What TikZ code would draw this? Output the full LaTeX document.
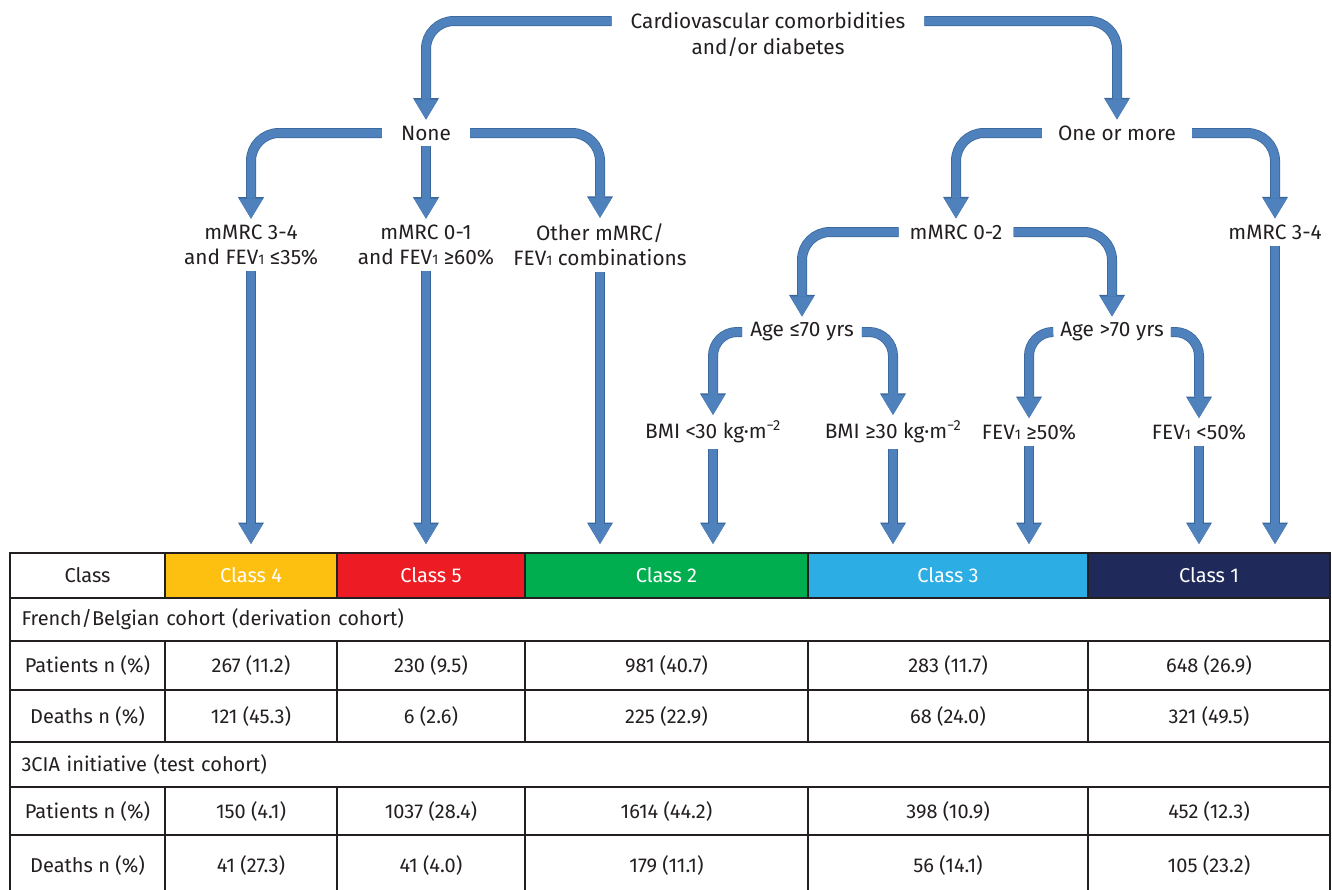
\documentclass[tikz,border=0pt]{standalone}
\usepackage{fontspec}
\setmainfont{Fira Sans}
\usetikzlibrary{arrows.meta,positioning}

\definecolor{arrowblue}{HTML}{4F81BD}
\definecolor{arrowedge}{HTML}{3A679B}
\definecolor{txtgray}{HTML}{231F20}
\definecolor{classfour}{HTML}{FDBF10}
\definecolor{classfive}{HTML}{ED1C24}
\definecolor{classtwo}{HTML}{00AE4F}
\definecolor{classthree}{HTML}{2CADE3}
\definecolor{classone}{HTML}{1F2A5B}

\newcommand{\fevone}{FEV{\fontsize{14pt}{14pt}\selectfont 1}}

\tikzset{
  flow/.style={draw=arrowblue, line width=8.5pt, rounded corners=28pt,
    -{Triangle[width=24pt,length=20pt,line width=0pt]},
    preaction={draw=arrowedge, line width=10pt,
      -{Triangle[width=26pt,length=21.5pt,line width=0pt]}}},
  crit/.style={text=txtgray, inner xsep=#1, inner ysep=6pt, align=center,
    font=\fontsize{20.8pt}{25pt}\selectfont},
  crit/.default=16pt,
  cell/.style={draw=txtgray, line width=1.3pt, inner sep=0pt, outer sep=0pt,
    text=txtgray, font=\fontsize{20pt}{22pt}\selectfont},
  hcell/.style={cell, text=white, minimum height=45pt}
}

\begin{document}
\begin{tikzpicture}[x=1pt,y=-1pt]
    \useasboundingbox (0,0) rectangle (1332,889);

    % decision tree
    \node[crit=19pt] (cvd) at (768,21) {Cardiovascular comorbidities};
    \node[crit] (cvdb) at (768,47) {and/or diabetes};
    \node[crit=19pt] (none) at (426,133) {None};
    \node[crit=16pt] (more) at (1117,133) {One or more};

    \node[crit] (lowfev) at (251,245) {mMRC 3-4\\and \fevone{} ≤35\%};
    \node[crit] (highfev) at (426,245) {mMRC 0-1\\and \fevone{} ≥60\%};
    \node[crit] (other) at (600,245) {Other mMRC/\\\fevone{} combinations};
    \node[crit=11pt] (mlow) at (956,232) {mMRC 0-2};
    \node[crit] (mhigh) at (1275,232) {mMRC 3-4};

    \node[crit=8pt] (young) at (802,332) {Age ≤70 yrs};
    \node[crit=7pt] (old) at (1112,332) {Age >70 yrs};

    \node[crit] (bmilow) at (713,432) {BMI <30 kg·m\textsuperscript{−2}};
    \node[crit] (bmihigh) at (893,432) {BMI ≥30 kg·m\textsuperscript{−2}};
    \node[crit] (fevhigh) at (1029,432) {\fevone{} ≥50\%};
    \node[crit] (fevlow) at (1199,432) {\fevone{} <50\%};

    \coordinate (tabtop) at (0,544);

    \draw[flow] (cvd.west) -| (none.north);
    \draw[flow] (cvd.east) -| (more.north);
    \draw[flow] (none.west) -| (lowfev.north);
    \draw[flow] (none.south) -- (highfev.north);
    \draw[flow] (none.east) -| (other.north);
    \draw[flow] (more.west) -| (mlow.north);
    \draw[flow] (more.east) -| (mhigh.north);
    \draw[flow] (mlow.west) -| (young.north);
    \draw[flow] (mlow.east) -| (old.north);
    \draw[flow, rounded corners=24pt] (young.west) -| (bmilow.north);
    \draw[flow, rounded corners=24pt] (young.east) -| (bmihigh.north);
    \draw[flow, rounded corners=24pt] (old.west) -| (fevhigh.north);
    \draw[flow, rounded corners=24pt] (old.east) -| (fevlow.north);

    \draw[flow] (lowfev.south) -- (lowfev.south |- tabtop);
    \draw[flow] (highfev.south) -- (highfev.south |- tabtop);
    \draw[flow] (other.south) -- (other.south |- tabtop);
    \draw[flow] (bmilow.south) -- (bmilow.south |- tabtop);
    \draw[flow] (bmihigh.south) -- (bmihigh.south |- tabtop);
    \draw[flow] (fevhigh.south) -- (fevhigh.south |- tabtop);
    \draw[flow] (fevlow.south) -- (fevlow.south |- tabtop);
    \draw[flow] (mhigh.south) -- (mhigh.south |- tabtop);

    % table: header
    \node[hcell, text=txtgray, minimum width=155pt] (hclass) at (87.5,575.5) {Class};
    \node[hcell, fill=classfour, minimum width=172pt] (hfour) at (251,575.5) {Class 4};
    \node[hcell, fill=classfive, minimum width=188pt] (hfive) at (431,575.5) {Class 5};
    \node[hcell, fill=classtwo, minimum width=283pt] (htwo) at (666.5,575.5) {Class 2};
    \node[hcell, fill=classthree, minimum width=280pt] (hthree) at (948,575.5) {Class 3};
    \node[hcell, fill=classone, minimum width=242pt] (hone) at (1209,575.5) {Class 1};

    % derivation cohort
    \node[cell, text width=1297pt, inner xsep=11.5pt, align=left, minimum height=43pt] (deriv) at (670,619.5) {French/Belgian cohort (derivation cohort)};
    \node[cell, minimum width=155pt, minimum height=49pt] (dpat) at (87.5,665.5) {Patients n (\%)};
    \node[cell, minimum width=172pt, minimum height=49pt] (dpatfour) at (251,665.5) {267 (11.2)};
    \node[cell, minimum width=188pt, minimum height=49pt] (dpatfive) at (431,665.5) {230 (9.5)};
    \node[cell, minimum width=283pt, minimum height=49pt] (dpattwo) at (666.5,665.5) {981 (40.7)};
    \node[cell, minimum width=280pt, minimum height=49pt] (dpatthree) at (948,665.5) {283 (11.7)};
    \node[cell, minimum width=242pt, minimum height=49pt] (dpatone) at (1209,665.5) {648 (26.9)};
    \node[cell, minimum width=155pt, minimum height=52pt] (ddeath) at (87.5,716) {Deaths n (\%)};
    \node[cell, minimum width=172pt, minimum height=52pt] (ddeathfour) at (251,716) {121 (45.3)};
    \node[cell, minimum width=188pt, minimum height=52pt] (ddeathfive) at (431,716) {6 (2.6)};
    \node[cell, minimum width=283pt, minimum height=52pt] (ddeathtwo) at (666.5,716) {225 (22.9)};
    \node[cell, minimum width=280pt, minimum height=52pt] (ddeaththree) at (948,716) {68 (24.0)};
    \node[cell, minimum width=242pt, minimum height=52pt] (ddeathone) at (1209,716) {321 (49.5)};

    % test cohort
    \node[cell, text width=1297pt, inner xsep=11.5pt, align=left, minimum height=45pt] (test) at (670,764.5) {3CIA initiative (test cohort)};
    \node[cell, minimum width=155pt, minimum height=48pt] (tpat) at (87.5,811) {Patients n (\%)};
    \node[cell, minimum width=172pt, minimum height=48pt] (tpatfour) at (251,811) {150 (4.1)};
    \node[cell, minimum width=188pt, minimum height=48pt] (tpatfive) at (431,811) {1037 (28.4)};
    \node[cell, minimum width=283pt, minimum height=48pt] (tpattwo) at (666.5,811) {1614 (44.2)};
    \node[cell, minimum width=280pt, minimum height=48pt] (tpatthree) at (948,811) {398 (10.9)};
    \node[cell, minimum width=242pt, minimum height=48pt] (tpatone) at (1209,811) {452 (12.3)};
    \node[cell, minimum width=155pt, minimum height=60pt] (tdeath) at (87.5,865) {Deaths n (\%)};
    \node[cell, minimum width=172pt, minimum height=60pt] (tdeathfour) at (251,865) {41 (27.3)};
    \node[cell, minimum width=188pt, minimum height=60pt] (tdeathfive) at (431,865) {41 (4.0)};
    \node[cell, minimum width=283pt, minimum height=60pt] (tdeathtwo) at (666.5,865) {179 (11.1)};
    \node[cell, minimum width=280pt, minimum height=60pt] (tdeaththree) at (948,865) {56 (14.1)};
    \node[cell, minimum width=242pt, minimum height=60pt] (tdeathone) at (1209,865) {105 (23.2)};
\end{tikzpicture}
\end{document}
